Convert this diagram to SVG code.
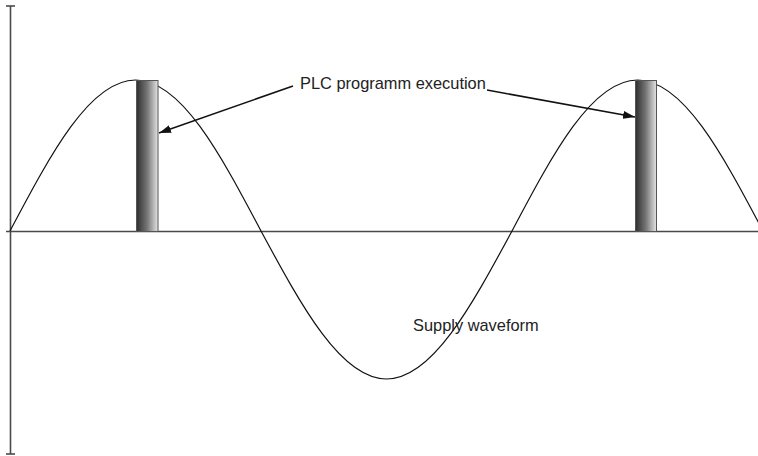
<svg xmlns="http://www.w3.org/2000/svg" width="758" height="456" viewBox="0 0 758 456">
<style>
.axis{stroke:#4a4a4a;stroke-width:1.6;fill:none}
.wave{stroke:#111;stroke-width:1.2;fill:none}
.bar{fill:url(#g);stroke:#555;stroke-width:1}
.arr{stroke:#111;stroke-width:1.6;fill:none;marker-end:url(#ah)}
.lbl{font-family:"Liberation Sans",Arial,sans-serif;font-size:16.4px;fill:#222}
</style>
<defs>
<linearGradient id="g" x1="0" y1="0" x2="1" y2="0">
<stop offset="0" stop-color="#2e2e2e"/>
<stop offset="0.5" stop-color="#777"/>
<stop offset="1" stop-color="#e4e4e4"/>
</linearGradient>
<marker id="ah" viewBox="0 0 12 8" refX="12" refY="4" markerWidth="12" markerHeight="8" markerUnits="userSpaceOnUse" orient="auto">
<path d="M0,0 L12,4 L0,8 Z" fill="#111"/>
</marker>
</defs>
<g id="axes">
<line class="axis" x1="10.5" y1="6" x2="10.5" y2="454"/>
<line class="axis" x1="6" y1="6" x2="15" y2="6"/>
<line class="axis" x1="6" y1="454" x2="15" y2="454"/>
<line class="axis" x1="6" y1="231.5" x2="758" y2="231.5"/>
</g>
<g id="waveform">
<path class="wave" d="M10,231 C50.93,153.6 90.08,80 135.5,80 C180.92,80 220.07,153.6 261,231 C301.93,306.8 341.08,379 386.5,379 C431.92,379 471.07,306.8 512,231 C552.93,153.6 592.08,80 637.5,80 C682.92,80 722.07,153.6 763,231"/>
</g>
<g id="bar1"><rect class="bar" x="136.5" y="80.5" width="21.5" height="151"/></g>
<g id="bar2"><rect class="bar" x="635.5" y="80.5" width="21" height="151"/></g>
<g id="label-plc"><text class="lbl" x="300" y="89">PLC programm execution</text></g>
<g id="label-supply"><text class="lbl" x="413" y="331">Supply waveform</text></g>
<g id="connectors">
<line class="arr" x1="293" y1="86" x2="159" y2="133"/>
<line class="arr" x1="487" y1="90" x2="635" y2="117"/>
</g>
</svg>
